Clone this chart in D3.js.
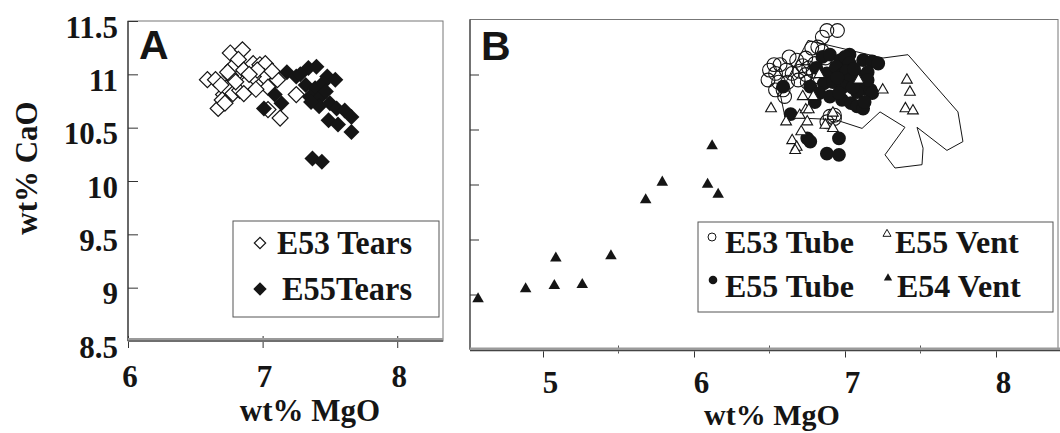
<!DOCTYPE html>
<html>
<head>
<meta charset="utf-8">
<script src="https://cdn.jsdelivr.net/npm/d3@7"></script>
<style>
  html, body { margin: 0; padding: 0; background: #fff; }
  svg { display: block; }
  svg text.tx { font-family: 'Liberation Serif'; font-weight: bold; }
  svg text.ts { font-family: 'Liberation Sans'; font-weight: bold; }
</style>
</head>
<body>
<svg id="chart" width="1060" height="433"></svg>
<script>
// ---- Panel A: glass tears (wt% MgO, wt% CaO) ----
const e53Tears = [
  [6.59,10.95],[6.65,10.95],[6.67,10.68],[6.71,10.81],[6.73,10.87],[6.76,11.20],[6.85,11.23],
  [6.78,11.07],[6.82,11.14],[6.86,11.04],[6.89,10.96],[6.93,11.10],[6.98,11.09],[7.02,11.10],
  [7.01,10.98],[7.04,10.88],[7.11,10.95],[7.13,10.59],[7.04,10.67],[6.70,10.76],[6.78,10.82],
  [6.83,10.85],[6.88,10.92],[6.93,10.98],[6.76,10.99],[6.80,10.93],[6.96,11.04],[7.07,11.03],
  [7.25,10.81],[6.86,10.82],[6.69,10.90],[6.74,11.02],[6.95,10.86],[6.90,11.00],[6.72,10.73]
];
const e55Tears = [
  [7.01,10.68],[7.09,10.81],[7.14,10.73],[7.18,11.02],[7.25,10.98],[7.34,11.06],[7.40,11.07],
  [7.48,10.98],[7.54,10.95],[7.32,10.90],[7.39,10.87],[7.35,10.79],[7.43,10.79],[7.42,10.70],
  [7.50,10.73],[7.55,10.68],[7.49,10.57],[7.56,10.53],[7.61,10.66],[7.66,10.60],[7.66,10.46],
  [7.37,10.21],[7.44,10.18],[7.28,11.00],[7.45,10.92],[7.36,10.74],[7.47,10.84]
];

// ---- Panel B: tube and vent glasses ----
const e53Tube = [
  [6.88,11.40],[6.95,11.40],[6.85,11.34],[6.78,11.24],[6.85,11.21],[6.82,11.25],[6.74,11.15],
  [6.68,11.13],[6.87,11.15],[6.76,11.06],[6.53,11.09],[6.57,11.09],[6.50,11.04],[6.54,11.01],
  [6.61,11.04],[6.65,11.01],[6.70,11.03],[6.74,11.00],[6.79,11.03],[6.82,10.98],[6.49,10.95],
  [6.56,10.93],[6.62,10.93],[6.69,10.95],[6.75,10.93],[6.54,10.86],[6.59,10.86],[6.60,10.80],
  [6.90,10.62],[6.93,10.63],[6.88,10.57],[6.93,10.60],[6.63,11.16],[6.72,11.08],[6.80,11.10]
];
const e55Tube = [
  [6.85,11.16],[6.90,11.18],[6.97,11.13],[7.03,11.18],[7.00,11.16],[7.03,11.10],[7.12,11.13],
  [7.18,11.12],[7.22,11.10],[6.81,11.06],[6.88,11.01],[6.94,11.07],[6.99,11.01],[7.01,11.03],
  [7.10,10.98],[7.03,10.95],[6.86,10.92],[6.92,10.93],[6.99,10.89],[7.09,10.92],[7.12,10.89],
  [7.14,10.87],[7.17,10.86],[7.18,10.83],[7.08,10.84],[6.77,10.89],[6.83,10.83],[6.90,10.80],
  [6.98,10.77],[7.04,10.74],[7.08,10.71],[7.12,10.69],[7.13,10.75],[6.80,10.75],[6.59,10.89],
  [6.64,10.64],[6.75,10.42],[6.77,10.39],[6.96,10.42],[6.88,10.28],[6.96,10.27],
  [6.95,10.97],[7.06,11.05],[7.15,11.02],[6.96,10.83],[7.05,10.88],[7.15,10.95]
];
const e55Vent = [
  [6.51,10.69],[6.61,10.57],[6.65,10.40],[6.68,10.34],[6.67,10.31],[6.71,10.48],[6.70,10.63],
  [6.75,10.57],[6.74,10.68],[6.72,10.80],[6.79,10.80],[6.76,10.68],[6.87,10.54],[6.92,10.51],
  [6.92,10.65],[6.83,11.00],[7.09,10.95],[7.25,10.86],[7.41,10.95],[7.43,10.84],[7.40,10.69],
  [7.45,10.67]
];
const e54Vent = [
  [4.57,8.96],[4.885,9.05],[5.075,9.08],[5.085,9.33],[5.26,9.09],[5.45,9.35],[5.68,9.86],
  [5.79,10.02],[6.12,10.35],[6.09,10.00],[6.16,9.91]
];
// outline of the tear compositions, drawn as a field in panel B
const tearsField = [
  [6.755,11.31],[7.252,11.15],[7.417,11.18],[7.748,10.66],[7.781,10.39],[7.675,10.31],
  [7.477,10.52],[7.517,10.33],[7.51,10.18],[7.331,10.15],[7.265,10.27],[7.397,10.52],
  [7.232,10.66],[7.113,10.51],[6.934,10.59],[6.603,10.61],[6.57,10.83]
];

const xTicksA = [6, 7, 8];
const yTicks = [8.5, 9, 9.5, 10, 10.5, 11, 11.5];
const yTickLabels = ["8.5", "9", "9.5", "10", "10.5", "11", "11.5"];
const xTicksB = [5, 6, 7, 8];
const xMinorB = [5.5, 6.5, 7.5];

const ink = "#151515";
const svg = d3.select("#chart");

// bold serif text helper
function serifText(sel, size) {
  return sel.attr("class", "tx")
    .attr("font-family", "Liberation Serif").attr("font-weight", "bold")
    .attr("font-size", size).attr("fill", ink);
}
function sansText(sel, size) {
  return sel.attr("class", "ts")
    .attr("font-family", "Liberation Sans").attr("font-weight", "bold")
    .attr("font-size", size).attr("fill", ink);
}

// ---------- Panel A ----------
const xA = d3.scaleLinear().domain([6, 8.34]).range([128, 443]);
const yA = d3.scaleLinear().domain([8.5, 11.5]).range([341, 21]);
const gA = svg.append("g");

// frame
gA.append("rect").attr("x", 128).attr("y", 21).attr("width", 315).attr("height", 320)
  .attr("fill", "none").attr("stroke", "#777").attr("stroke-width", 1);
gA.append("line").attr("x1", 128).attr("x2", 128).attr("y1", 21).attr("y2", 341)
  .attr("stroke", "#333").attr("stroke-width", 1.2);

// y axis: inward ticks, labels on the left
const yAxA = d3.axisLeft(yA).tickValues(yTicks).tickSizeInner(-10).tickSizeOuter(0).tickPadding(10)
  .tickFormat((d, i) => yTickLabels[i]);
const gyA = gA.append("g").attr("transform", "translate(128,0)").call(yAxA);
gyA.attr("font-family", "Liberation Serif").attr("font-size", 31);
gyA.select(".domain").remove();
gyA.selectAll(".tick line").attr("stroke", "#333");
serifText(gyA.selectAll(".tick text"), 31).attr("dy", "0").attr("y", 16);

// x axis
const xAxA = d3.axisBottom(xA).tickValues(xTicksA).tickSizeInner(7).tickSizeOuter(0).tickFormat(d3.format("d"));
const gxA = gA.append("g").attr("transform", "translate(0,341)").call(xAxA);
gxA.attr("font-family", "Liberation Serif").attr("font-size", 31);
gxA.select(".domain").remove();
gxA.selectAll(".tick line").attr("stroke", "#333").attr("y1", -5);
serifText(gxA.selectAll(".tick text"), 31).attr("dy", "0").attr("y", 46).attr("x", 1.5);
gA.append("line").attr("x1", 128).attr("x2", 443).attr("y1", 340).attr("y2", 340)
  .attr("stroke", "#9a9a9a").attr("stroke-width", 4);
gA.append("line").attr("x1", 128).attr("x2", 443).attr("y1", 341).attr("y2", 341)
  .attr("stroke", "#444").attr("stroke-width", 1);

// points
const diamond = d3.symbol().type(d3.symbolSquare).size(128);
gA.append("g").selectAll("path").data(e53Tears).join("path")
  .attr("d", diamond)
  .attr("transform", d => `translate(${xA(d[0])},${yA(d[1])}) rotate(45)`)
  .attr("fill", "#fff").attr("stroke", ink).attr("stroke-width", 1.2);
gA.append("g").selectAll("path").data(e55Tears).join("path")
  .attr("d", diamond)
  .attr("transform", d => `translate(${xA(d[0])},${yA(d[1])}) rotate(45)`)
  .attr("fill", ink);

sansText(gA.append("text"), 41).attr("x", 139).attr("y", 59).text("A");

// legend A
const legA = gA.append("g");
legA.append("rect").attr("x", 233).attr("y", 221).attr("width", 206).attr("height", 96)
  .attr("fill", "#fff").attr("stroke", "#555").attr("stroke-width", 1);
legA.append("path").attr("d", d3.symbol().type(d3.symbolSquare).size(64)())
  .attr("transform", "translate(260,243) rotate(45)").attr("fill", "#fff").attr("stroke", ink).attr("stroke-width", 1.2);
legA.append("path").attr("d", d3.symbol().type(d3.symbolSquare).size(90)())
  .attr("transform", "translate(260,289) rotate(45)").attr("fill", ink);
serifText(legA.append("text"), 33).attr("x", 277).attr("y", 254)
  .attr("textLength", 135).attr("lengthAdjust", "spacingAndGlyphs").text("E53 Tears");
serifText(legA.append("text"), 33).attr("x", 282).attr("y", 300)
  .attr("textLength", 130).attr("lengthAdjust", "spacingAndGlyphs").text("E55Tears");

// axis titles A
serifText(gA.append("text"), 31).attr("x", 310).attr("y", 421).attr("text-anchor", "middle").text("wt% MgO");
serifText(gA.append("text"), 31).attr("text-anchor", "middle")
  .attr("transform", "translate(37,168) rotate(-90)").text("wt% CaO");

// ---------- Panel B ----------
const xB = d3.scaleLinear().domain([5, 8]).range([543, 996]);
const yB = d3.scaleLinear().domain([8.5, 11.5]).range([349.5, 19.5]);
const gB = svg.append("g");
const bL = 470, bR = 1058, bT = 19.5, bBot = 349.5;

gB.append("rect").attr("x", bL).attr("y", bT).attr("width", bR - bL).attr("height", bBot - bT)
  .attr("fill", "none").attr("stroke", "#777").attr("stroke-width", 1);
gB.append("line").attr("x1", bL).attr("x2", bL).attr("y1", bT).attr("y2", bBot)
  .attr("stroke", "#444").attr("stroke-width", 1.2);

const yAxB = d3.axisLeft(yB).tickValues(yTicks.slice(1, -1)).tickSizeInner(-9).tickSizeOuter(0).tickFormat("");
const gyB = gB.append("g").attr("transform", `translate(${bL},0)`).call(yAxB);
gyB.select(".domain").remove();
gyB.selectAll(".tick line").attr("stroke", "#333");

const xAxB = d3.axisBottom(xB).tickValues(xTicksB).tickSizeInner(8).tickSizeOuter(0).tickFormat(d3.format("d"));
const gxB = gB.append("g").attr("transform", `translate(0,${bBot})`).call(xAxB);
gxB.attr("font-family", "Liberation Serif").attr("font-size", 31);
gxB.select(".domain").remove();
gxB.selectAll(".tick line").attr("stroke", "#333");
serifText(gxB.selectAll(".tick text"), 31).attr("dy", "0").attr("y", 43).attr("x", 7);
gB.append("g").selectAll("line").data(xMinorB).join("line")
  .attr("x1", d => xB(d)).attr("x2", d => xB(d)).attr("y1", bBot - 4).attr("y2", bBot + 4)
  .attr("stroke", "#555");
gB.append("line").attr("x1", bL).attr("x2", 1060).attr("y1", bBot).attr("y2", bBot)
  .attr("stroke", "#9a9a9a").attr("stroke-width", 4);
gB.append("line").attr("x1", bL).attr("x2", 1060).attr("y1", bBot + 1).attr("y2", bBot + 1)
  .attr("stroke", "#444").attr("stroke-width", 1);

// field outline
gB.append("path").datum(tearsField)
  .attr("d", d3.line().x(d => xB(d[0])).y(d => yB(d[1])).curve(d3.curveLinearClosed))
  .attr("fill", "none").attr("stroke", ink).attr("stroke-width", 1);

const circleSym = d3.symbol().type(d3.symbolCircle).size(150);
const triSym = d3.symbol().type(d3.symbolTriangle).size(50);
const triSymBig = d3.symbol().type(d3.symbolTriangle).size(58);

gB.append("g").selectAll("path").data(e53Tube).join("path")
  .attr("d", circleSym).attr("transform", d => `translate(${xB(d[0])},${yB(d[1])})`)
  .attr("fill", "none").attr("stroke", ink).attr("stroke-width", 1.1);
gB.append("g").selectAll("path").data(e55Tube).join("path")
  .attr("d", circleSym).attr("transform", d => `translate(${xB(d[0])},${yB(d[1])})`)
  .attr("fill", ink);
gB.append("g").selectAll("path").data(e55Vent).join("path")
  .attr("d", triSym).attr("transform", d => `translate(${xB(d[0])},${yB(d[1])})`)
  .attr("fill", "#fff").attr("stroke", ink).attr("stroke-width", 1.1);
gB.append("g").selectAll("path").data(e54Vent).join("path")
  .attr("d", triSymBig).attr("transform", d => `translate(${xB(d[0])},${yB(d[1])})`)
  .attr("fill", ink);

sansText(gB.append("text"), 41).attr("x", 481).attr("y", 60).text("B");

// legend B
const legB = gB.append("g");
legB.append("rect").attr("x", 698).attr("y", 222).attr("width", 355).attr("height", 90)
  .attr("fill", "#fff").attr("stroke", "#555").attr("stroke-width", 1);
legB.append("circle").attr("cx", 712).attr("cy", 237).attr("r", 4).attr("fill", "#fff").attr("stroke", ink).attr("stroke-width", 1);
legB.append("circle").attr("cx", 713).attr("cy", 280).attr("r", 4.3).attr("fill", ink);
legB.append("path").attr("d", d3.symbol().type(d3.symbolTriangle).size(28)())
  .attr("transform", "translate(887,234)").attr("fill", "#fff").attr("stroke", ink).attr("stroke-width", 1);
legB.append("path").attr("d", d3.symbol().type(d3.symbolTriangle).size(30)())
  .attr("transform", "translate(888,278)").attr("fill", ink);
const legRows = [
  { x: 725, y: 253, t: "E53 Tube" }, { x: 725, y: 297, t: "E55 Tube" },
  { x: 895, y: 253, t: "E55 Vent" }, { x: 897, y: 297, t: "E54 Vent" }
];
serifText(legB.selectAll("text").data(legRows).join("text"), 32)
  .attr("x", d => d.x).attr("y", d => d.y).text(d => d.t);

serifText(gB.append("text"), 30).attr("x", 772).attr("y", 425).attr("text-anchor", "middle").text("wt% MgO");
</script>
</body>
</html>
